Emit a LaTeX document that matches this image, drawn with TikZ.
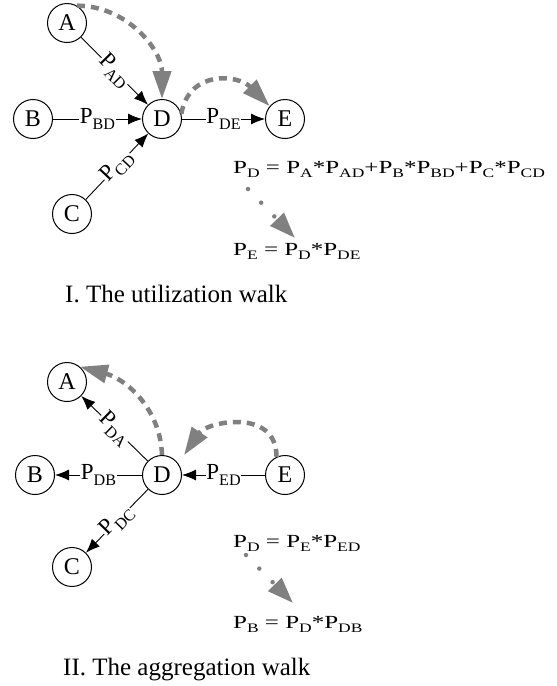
\documentclass[tikz,border=0pt]{standalone}
\usepackage{fontspec}
\setmainfont{Liberation Serif}
\newfontfamily\eqfont[FakeStretch=1.35]{Liberation Serif}
\usetikzlibrary{arrows.meta}
\newcommand{\idx}[1]{\raisebox{-0.25em}{\scalebox{0.7}{#1}}}

\begin{document}
\begin{tikzpicture}[x=1pt,y=1pt,
  vertex/.style={draw, circle, minimum size=39pt, inner sep=0pt, line width=1pt, font=\fontsize{24}{28}\selectfont},
  link/.style={-{Latex[length=14pt,width=11pt]}, line width=0.9pt},
  plabel/.style={fill=white, inner sep=0.5pt, font=\fontsize{23}{27}\selectfont},
  walk/.style={gray, line width=4.5pt, dash pattern=on 8pt off 6pt, -{Triangle[length=28pt,width=18pt]}},
  flow/.style={gray, line width=4.5pt, line cap=round, dash pattern=on 0pt off 19pt, -{Triangle[length=26pt,width=18pt]}},
  formula/.style={anchor=base west, inner sep=0pt, font=\eqfont\fontsize{18.5}{22}\selectfont},
  caption/.style={anchor=base west, inner sep=0pt, font=\fontsize{25}{30}\selectfont}]
\useasboundingbox (0,0) rectangle (557,-686);

% I. utilization walk
\node[vertex] (uA) at (67,-23) {A};
\node[vertex] (uB) at (33,-119) {B};
\node[vertex] (uC) at (72,-214) {C};
\node[vertex] (uD) at (162,-119) {D};
\node[vertex] (uE) at (285,-119) {E};

\draw[link] (uA) -- node[plabel,sloped] {P\idx{AD}} (uD);
\draw[link] (uB) -- node[plabel] {P\idx{BD}} (uD);
\draw[link] (uC) -- node[plabel,sloped] {P\idx{CD}} (uD);
\draw[link] (uD) -- node[plabel] {P\idx{DE}} (uE);

\draw[walk] (uA.60) to[out=0,in=90] (uD.north);
\draw[walk] (uD.15) to[out=80,in=135,looseness=1.3] (uE.140);

\node[formula] (sumD) at (233,-173) {P\idx{D} = P\idx{A}*P\idx{AD}+P\idx{B}*P\idx{BD}+P\idx{C}*P\idx{CD}};
\node[formula] (prodE) at (233,-255) {P\idx{E} = P\idx{D}*P\idx{DE}};
\coordinate (u1) at (248,-189);
\coordinate (u2) at (295,-238);
\draw[flow] (u1) -- (u2);

\node[caption] (capU) at (65,-302) {I. The utilization walk};

% II. aggregation walk
\node[vertex] (aA) at (67,-382) {A};
\node[vertex] (aB) at (35,-475) {B};
\node[vertex] (aC) at (72,-567) {C};
\node[vertex] (aD) at (162,-475) {D};
\node[vertex] (aE) at (285,-475) {E};

\draw[link] (aD) -- node[plabel,sloped] {P\idx{DA}} (aA);
\draw[link] (aD) -- node[plabel] {P\idx{DB}} (aB);
\draw[link] (aD) -- node[plabel,sloped] {P\idx{DC}} (aC);
\draw[link] (aE) -- node[plabel] {P\idx{ED}} (aD);

\draw[walk] (aD.north) to[out=92,in=-15] (aA.50);
\draw[walk, shorten >=10pt] (aE.115) to[out=90,in=56,looseness=1.3] (aD.35);

\node[formula] (sumD2) at (233,-547) {P\idx{D} = P\idx{E}*P\idx{ED}};
\node[formula] (prodB) at (233,-628) {P\idx{B} = P\idx{D}*P\idx{DB}};
\coordinate (a1) at (246,-555);
\coordinate (a2) at (293,-603);
\draw[flow] (a1) -- (a2);

\node[caption] (capA) at (63,-675) {II. The aggregation walk};
\end{tikzpicture}
\end{document}
